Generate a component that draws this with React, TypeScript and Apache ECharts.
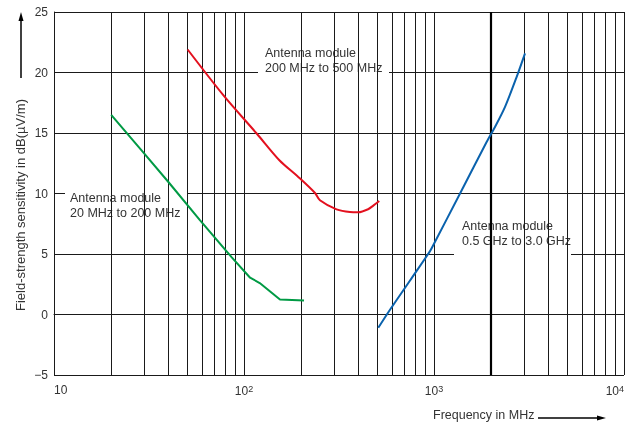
import React, { useEffect, useRef } from "react";
import * as echarts from "echarts";

const greenFreq = [20, 29.5, 40, 58.6, 86, 107.7, 121, 154.6, 207];
const greenVal = [16.5, 13.4, 10.95, 7.8, 4.74, 3.04, 2.6, 1.24, 1.16];

const redFreq = [50.5, 77.8, 116.6, 153.5, 193, 236.5, 251, 307, 361, 400, 450, 479, 515];
const redVal = [21.9, 18.13, 14.96, 12.75, 11.37, 10.04, 9.44, 8.69, 8.47, 8.45, 8.7, 9.0, 9.38];

const blueFreq = [509, 575, 748, 953, 1000, 1371, 1892, 2094, 2365, 2724, 3013];
const blueVal = [-1.1, 0.19, 2.81, 5.24, 5.85, 10.0, 14.26, 15.5, 17.16, 19.64, 21.58];

const minorGridFreq = [
  20, 30, 40, 50, 60, 70, 80, 90,
  200, 300, 400, 500, 600, 700, 800, 900,
  3000, 4000, 5000, 6000, 7000, 8000, 9000,
];
const boldGridFreq = [2000];

const FONT = "'Liberation Sans', Arial, sans-serif";
const TXT = "#333";
const GRID = "#1a1a1a";

const zip = (a: number[], b: number[]) => a.map((x, i) => [x, b[i]]);

export default function App() {
  const ref = useRef<HTMLDivElement>(null);
  useEffect(() => {
    if (!ref.current) return;
    const chart = echarts.init(ref.current, undefined, { renderer: "svg" });
    const labelBox = (
      x: number, y: number, w: number, h: number,
      tx: number, ty: number, lines: string[]
    ) => [
      { type: "rect", z: 3, shape: { x, y, width: w, height: h }, style: { fill: "#fff" } },
      {
        type: "text",
        z: 4,
        x: tx,
        y: ty,
        style: {
          text: lines.join("\n"),
          font: `12.5px ${FONT}`,
          fill: TXT,
          lineHeight: 14.5,
          verticalAlign: "top",
        },
      },
    ];
    chart.setOption({
      animation: false,
      grid: { left: 54, right: 14, top: 12, bottom: 48 },
      xAxis: {
        type: "log",
        logBase: 10,
        min: 10,
        max: 10000,
        axisLine: { show: true, lineStyle: { color: GRID, width: 1 } },
        axisTick: { show: false },
        splitLine: { show: true, lineStyle: { color: GRID, width: 1 } },
        axisLabel: {
          margin: 9,
          color: TXT,
          fontFamily: FONT,
          fontSize: 12,
          alignMinLabel: "left",
          alignMaxLabel: "right",
          formatter: (v: number) => {
            const e = Math.round(Math.log10(v));
            return e === 1 ? "10" : `10{s|${e}}`;
          },
          rich: { s: { fontSize: 9, fontFamily: FONT, color: TXT, padding: [0, 0, 5, 0] } },
        },
      },
      yAxis: {
        type: "value",
        min: -5,
        max: 25,
        interval: 5,
        axisLine: { show: true, lineStyle: { color: GRID, width: 1 } },
        axisTick: { show: false },
        splitLine: { show: true, lineStyle: { color: GRID, width: 1 } },
        axisLabel: {
          margin: 6,
          color: TXT,
          fontFamily: FONT,
          fontSize: 12,
          formatter: (v: number) => (v < 0 ? "\u2212" + Math.abs(v) : String(v)),
        },
      },
      graphic: [
        ...labelBox(65, 186, 122, 39, 70, 191, ["Antenna module", "20 MHz to 200 MHz"]),
        ...labelBox(258, 45, 131, 35, 265, 46, ["Antenna module", "200 MHz to 500 MHz"]),
        ...labelBox(454, 213, 117, 42, 462, 219, ["Antenna module", "0.5 GHz to 3.0 GHz"]),
        {
          type: "text",
          z: 4,
          x: 20,
          y: 205,
          rotation: Math.PI / 2,
          style: {
            text: "Field-strength sensitivity in dB(\u00b5V/m)",
            font: `13px ${FONT}`,
            fill: TXT,
            align: "center",
            verticalAlign: "middle",
          },
        },
        { type: "line", z: 4, shape: { x1: 21, y1: 78, x2: 21, y2: 20 }, style: { stroke: "#000", lineWidth: 1.5 } },
        { type: "polygon", z: 4, shape: { points: [[21, 12], [18.5, 21], [23.5, 21]] }, style: { fill: "#000" } },
        {
          type: "text",
          z: 4,
          x: 433,
          y: 415,
          style: { text: "Frequency in MHz", font: `12.5px ${FONT}`, fill: TXT, verticalAlign: "middle" },
        },
        { type: "line", z: 4, shape: { x1: 538, y1: 418, x2: 598, y2: 418 }, style: { stroke: "#000", lineWidth: 1.5 } },
        { type: "polygon", z: 4, shape: { points: [[606, 418], [597, 415.5], [597, 420.5]] }, style: { fill: "#000" } },
      ],
      series: [
        {
          type: "line",
          data: [],
          z: 1,
          silent: true,
          markLine: {
            silent: true,
            symbol: "none",
            label: { show: false },
            lineStyle: { color: GRID, width: 1, type: "solid" },
            data: [
              ...minorGridFreq.map((f) => ({ xAxis: f })),
              ...boldGridFreq.map((f) => ({ xAxis: f, lineStyle: { color: "#000", width: 2.2, type: "solid" } })),
            ],
          },
        },
        {
          type: "line",
          data: zip(greenFreq, greenVal),
          showSymbol: false,
          z: 5,
          lineStyle: { color: "#009a44", width: 2 },
        },
        {
          type: "line",
          data: zip(redFreq, redVal),
          showSymbol: false,
          smooth: 0.3,
          z: 5,
          lineStyle: { color: "#e3101e", width: 2 },
        },
        {
          type: "line",
          data: zip(blueFreq, blueVal),
          showSymbol: false,
          smooth: 0.3,
          z: 5,
          lineStyle: { color: "#0a62ad", width: 2 },
        },
      ],
    });
    return () => chart.dispose();
  }, []);
  return <div ref={ref} style={{ position: "fixed", left: 0, top: 0, width: 638, height: 423 }} />;
}
